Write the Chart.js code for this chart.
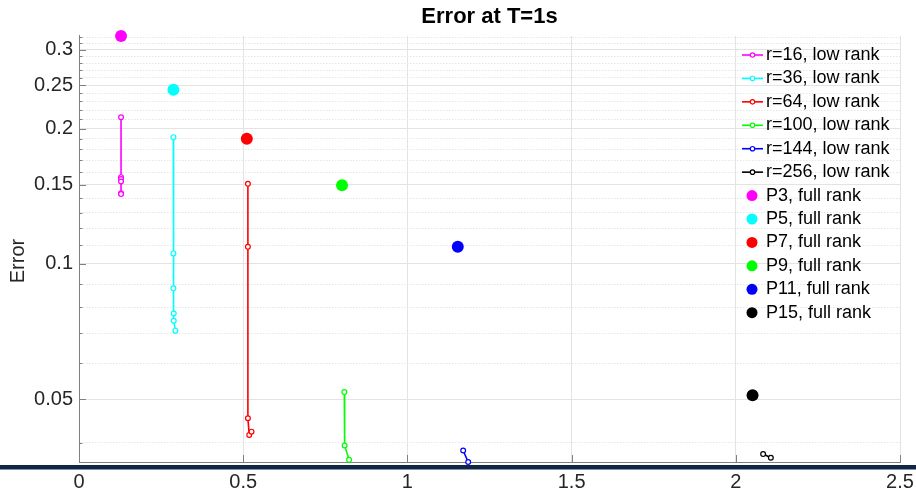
<!DOCTYPE html>
<html>
<head>
<meta charset="utf-8">
<script src="https://cdn.jsdelivr.net/npm/chart.js@4.4.0/dist/chart.umd.min.js"></script>
<style>
  html, body { margin: 0; padding: 0; background: #fff; }
  #wrap { width: 916px; height: 492px; }
</style>
</head>
<body>
<div id="wrap"><canvas id="grafico" width="916" height="492"></canvas></div>
<script>
// testi e tacche
const titolo = "Error at T=1s";
const etichettaY = "Error";
const xTicks = [0, 0.5, 1, 1.5, 2, 2.5];
const yTicks = [0.05, 0.1, 0.15, 0.2, 0.25, 0.3];
const yMinori = [0.04, 0.06, 0.07, 0.08, 0.09, 0.11, 0.12, 0.13, 0.14, 0.16, 0.17, 0.18, 0.19,
                 0.21, 0.22, 0.23, 0.24, 0.26, 0.27, 0.28, 0.29, 0.31, 0.32];

// serie low rank
const lowRankLabels = ["r=16, low rank", "r=36, low rank", "r=64, low rank",
                       "r=100, low rank", "r=144, low rank", "r=256, low rank"];
const colori = ["#ff00ff", "#00ffff", "#ff0000", "#00ff00", "#0000ff", "#000000"];
const r16X = [0.128, 0.128, 0.128, 0.128, 0.128, 0.128];
const r16Y = [0.212, 0.156, 0.1545, 0.1525, 0.1437, 0.143];
const r36X = [0.2875, 0.2875, 0.2875, 0.2885, 0.2885, 0.2936];
const r36Y = [0.1915, 0.1055, 0.0882, 0.0775, 0.0747, 0.071];
const r64X = [0.5143, 0.5143, 0.5143, 0.5183, 0.5253];
const r64Y = [0.1507, 0.1091, 0.0453, 0.0416, 0.0423];
const r100X = [0.8079, 0.8088, 0.8223];
const r100Y = [0.0518, 0.0394, 0.0366];
const r144X = [1.1698, 1.1851];
const r144Y = [0.0384, 0.0362];
const r256X = [2.0832, 2.1067];
const r256Y = [0.0377, 0.037];

// serie full rank
const fullRankLabels = ["P3, full rank", "P5, full rank", "P7, full rank",
                        "P9, full rank", "P11, full rank", "P15, full rank"];
const fullRankX = [0.128, 0.2875, 0.511, 0.801, 1.1534, 2.051];
const fullRankY = [0.3216, 0.2443, 0.19, 0.1497, 0.1091, 0.051];

const lowX = [r16X, r36X, r64X, r100X, r144X, r256X];
const lowY = [r16Y, r36Y, r64Y, r100Y, r144Y, r256Y];

Chart.defaults.font.family = '"Liberation Sans", Arial, sans-serif';

const isMajor = v => yTicks.some(t => Math.abs(t - v) < 1e-9);

const datasets = [];
lowX.forEach((xs, i) => {
  datasets.push({
    label: lowRankLabels[i],
    data: xs.map((x, j) => ({ x: x, y: lowY[i][j] })),
    showLine: true,
    borderColor: colori[i],
    borderWidth: 1.6,
    pointRadius: 2.4,
    pointBorderWidth: 1.2,
    pointBackgroundColor: "#ffffff",
    pointBorderColor: colori[i],
    clip: false
  });
});
fullRankX.forEach((x, i) => {
  datasets.push({
    label: fullRankLabels[i],
    data: [{ x: x, y: fullRankY[i] }],
    showLine: false,
    pointRadius: 6,
    pointBorderWidth: 0,
    pointBackgroundColor: colori[i],
    pointBorderColor: colori[i],
    clip: false
  });
});

// tacche interne, etichetta y, legenda e banda in basso
const decorazioni = {
  id: "decorazioni",
  afterDraw(chart) {
    const ctx = chart.ctx;
    const { left, bottom } = chart.chartArea;
    const sy = chart.scales.y, sx = chart.scales.x;
    ctx.save();

    ctx.strokeStyle = "#808080";
    ctx.lineWidth = 1;
    ctx.beginPath();
    yTicks.concat(yMinori).forEach(v => {
      const py = Math.round(sy.getPixelForValue(v)) + 0.5;
      ctx.moveTo(left, py);
      ctx.lineTo(left + (isMajor(v) ? 7 : 3.5), py);
    });
    xTicks.forEach(v => {
      const px = Math.round(sx.getPixelForValue(v)) + 0.5;
      ctx.moveTo(px, bottom);
      ctx.lineTo(px, bottom - 7);
    });
    ctx.stroke();

    ctx.fillStyle = "#262626";
    ctx.font = '20px "Liberation Sans", Arial, sans-serif';
    ctx.textAlign = "center";
    ctx.textBaseline = "middle";
    ctx.translate(18, 261);
    ctx.rotate(-Math.PI / 2);
    ctx.fillText(etichettaY, 0, 0);
    ctx.setTransform(1, 0, 0, 1, 0, 0);

    // legenda
    ctx.font = '18px "Liberation Sans", Arial, sans-serif';
    ctx.textAlign = "left";
    ctx.textBaseline = "middle";
    const x0 = 742, x1 = 763, tx = 766;
    const y0 = 55, passo = 23.43;
    lowRankLabels.forEach((lab, i) => {
      const y = y0 + i * passo;
      ctx.strokeStyle = colori[i];
      ctx.lineWidth = 1.6;
      ctx.beginPath();
      ctx.moveTo(x0, y);
      ctx.lineTo(x1, y);
      ctx.stroke();
      ctx.beginPath();
      ctx.arc((x0 + x1) / 2, y, 2.2, 0, Math.PI * 2);
      ctx.fillStyle = "#ffffff";
      ctx.fill();
      ctx.lineWidth = 1.2;
      ctx.stroke();
      ctx.fillStyle = "#000000";
      ctx.fillText(lab, tx, y);
    });
    fullRankLabels.forEach((lab, i) => {
      const y = y0 + (i + 6) * passo;
      ctx.beginPath();
      ctx.arc(752, y, 5.5, 0, Math.PI * 2);
      ctx.fillStyle = colori[i];
      ctx.fill();
      ctx.fillStyle = "#000000";
      ctx.fillText(lab, tx, y);
    });

    ctx.fillStyle = "#0f2745";
    ctx.fillRect(0, 465, chart.width, 4.5);
    ctx.restore();
  }
};

new Chart("grafico", {
  type: "scatter",
  data: { datasets: datasets },
  options: {
    responsive: false,
    animation: false,
    layout: { padding: { left: 0, right: 16, top: 0, bottom: 0 } },
    plugins: {
      legend: { display: false },
      tooltip: { enabled: false },
      title: {
        display: true,
        text: titolo,
        fullSize: false,
        color: "#000000",
        font: { size: 22, weight: "bold" },
        padding: { top: 4, bottom: 5.4 }
      }
    },
    scales: {
      x: {
        type: "linear",
        min: 0,
        max: 2.5,
        afterFit: s => { s.height = 30; s.paddingLeft = 0; s.paddingRight = 0; },
        afterBuildTicks: s => { s.ticks = xTicks.map(v => ({ value: v })); },
        ticks: {
          color: "#262626",
          font: { size: 20 },
          padding: 8,
          maxRotation: 0,
          callback: v => String(v)
        },
        grid: { color: "#e3e3e3", lineWidth: 1, drawTicks: false },
        border: { color: "#808080", width: 1 }
      },
      y: {
        type: "logarithmic",
        min: 0.0362,
        max: 0.322,
        afterFit: s => { s.width = 79; s.paddingTop = 0; s.paddingBottom = 0; },
        afterBuildTicks: s => {
          s.ticks = yTicks.concat(yMinori).sort((a, b) => a - b).map(v => ({ value: v }));
        },
        ticks: {
          color: "#262626",
          font: { size: 20 },
          padding: 6,
          autoSkip: false,
          callback: v => (isMajor(v) ? String(v) : "")
        },
        grid: {
          drawTicks: false,
          lineWidth: 1,
          color: c => (c.tick && isMajor(c.tick.value) ? "#e3e3e3" : "#e6e6e6")
        },
        border: {
          color: "#808080",
          width: 1,
          dash: c => (c.tick && !isMajor(c.tick.value) ? [1.5, 1.5] : [])
        }
      }
    }
  },
  plugins: [decorazioni]
});
</script>
</body>
</html>
